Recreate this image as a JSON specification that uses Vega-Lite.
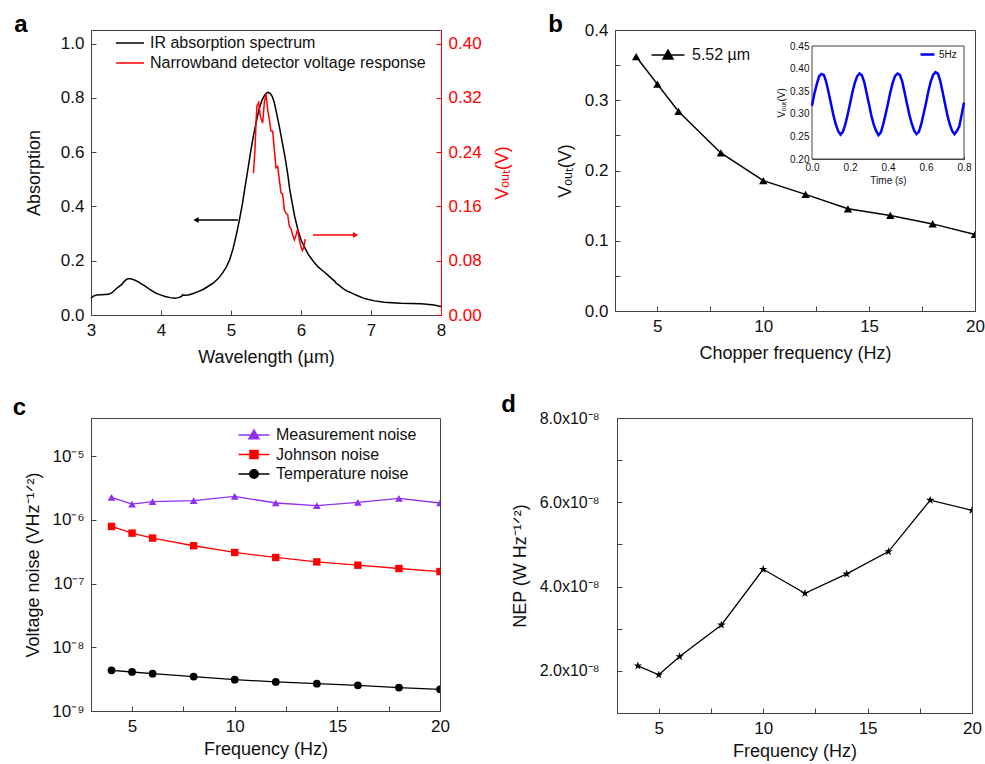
{
  "$schema": "https://vega.github.io/schema/vega-lite/v6.json",
  "background": "white",
  "padding": {"left": 12, "top": 12, "right": 5, "bottom": 0},
  "config": {
    "font": "Liberation Sans",
    "view": {"stroke": "#444", "strokeWidth": 1},
    "axis": {"grid": false, "labelFontSize": 17, "titleFontSize": 18, "titleFontWeight": "normal", "labelColor": "#111", "titleColor": "#111", "domainColor": "#444", "tickColor": "#444", "tickSize": -5, "labelPadding": 12, "titlePadding": 10, "labelFlush": false, "labelOverlap": false, "domainWidth": 1, "tickWidth": 1},
    "title": {"fontSize": 24, "fontWeight": "bold", "anchor": "start", "frame": "bounds", "baseline": "alphabetic", "color": "#000"},
    "legend": {"labelFontSize": 16, "labelColor": "#111", "labelLimit": 0, "padding": 0, "rowPadding": 2}
  },
  "spacing": 25,
  "resolve": {"scale": {"color": "independent", "shape": "independent"}},
  "vconcat": [
    {
      "spacing": 35,
      "resolve": {"scale": {"color": "independent", "shape": "independent"}},
      "hconcat": [
        {
          "width": 350, "height": 285,
          "title": {"text": "a", "dx": -11, "offset": -7},
          "resolve": {"scale": {"y": "independent"}},
          "layer": [
            {
              "layer": [
                {
                  "data": {"values": [
                    {"w":3.0,"a":0.062},{"w":3.04,"a":0.07},{"w":3.08,"a":0.074},{"w":3.15,"a":0.075},{"w":3.25,"a":0.076},{"w":3.3,"a":0.082},{"w":3.34,"a":0.092},{"w":3.39,"a":0.103},{"w":3.44,"a":0.113},{"w":3.48,"a":0.125},{"w":3.51,"a":0.132},{"w":3.55,"a":0.134},{"w":3.58,"a":0.133},{"w":3.62,"a":0.129},{"w":3.67,"a":0.123},{"w":3.72,"a":0.115},{"w":3.77,"a":0.107},{"w":3.84,"a":0.094},{"w":3.91,"a":0.083},{"w":3.98,"a":0.075},{"w":4.06,"a":0.068},{"w":4.13,"a":0.064},{"w":4.2,"a":0.062},{"w":4.25,"a":0.064},{"w":4.29,"a":0.068},{"w":4.31,"a":0.074},{"w":4.34,"a":0.073},{"w":4.39,"a":0.074},{"w":4.46,"a":0.079},{"w":4.53,"a":0.086},{"w":4.6,"a":0.094},{"w":4.67,"a":0.105},{"w":4.75,"a":0.118},{"w":4.82,"a":0.135},{"w":4.88,"a":0.155},{"w":4.93,"a":0.175},{"w":4.98,"a":0.203},{"w":5.03,"a":0.245},{"w":5.08,"a":0.3},{"w":5.12,"a":0.35},{"w":5.16,"a":0.405},{"w":5.2,"a":0.47},{"w":5.24,"a":0.535},{"w":5.28,"a":0.6},{"w":5.32,"a":0.66},{"w":5.36,"a":0.71},{"w":5.4,"a":0.757},{"w":5.44,"a":0.79},{"w":5.48,"a":0.81},{"w":5.51,"a":0.818},{"w":5.53,"a":0.82},{"w":5.56,"a":0.817},{"w":5.59,"a":0.805},{"w":5.62,"a":0.781},{"w":5.65,"a":0.745},{"w":5.69,"a":0.695},{"w":5.73,"a":0.64},{"w":5.77,"a":0.584},{"w":5.81,"a":0.52},{"w":5.84,"a":0.461},{"w":5.88,"a":0.405},{"w":5.91,"a":0.363},{"w":5.95,"a":0.32},{"w":6.0,"a":0.277},{"w":6.05,"a":0.25},{"w":6.1,"a":0.225},{"w":6.17,"a":0.2},{"w":6.24,"a":0.178},{"w":6.31,"a":0.163},{"w":6.38,"a":0.148},{"w":6.43,"a":0.136},{"w":6.48,"a":0.125},{"w":6.5,"a":0.118},{"w":6.55,"a":0.108},{"w":6.58,"a":0.102},{"w":6.62,"a":0.094},{"w":6.66,"a":0.088},{"w":6.7,"a":0.084},{"w":6.74,"a":0.079},{"w":6.78,"a":0.074},{"w":6.81,"a":0.071},{"w":6.88,"a":0.063},{"w":6.95,"a":0.058},{"w":7.05,"a":0.052},{"w":7.19,"a":0.047},{"w":7.3,"a":0.045},{"w":7.43,"a":0.043},{"w":7.57,"a":0.042},{"w":7.71,"a":0.041},{"w":7.8,"a":0.04},{"w":7.9,"a":0.037},{"w":8.0,"a":0.031}
                  ]},
                  "mark": {"type": "line", "strokeWidth": 1.5},
                  "encoding": {
                    "x": {"field": "w", "type": "quantitative", "title": "Wavelength (µm)", "scale": {"domain": [3, 8], "nice": false, "zero": false},
                      "axis": {"values": [3, 3.5, 4, 4.5, 5, 5.5, 6, 6.5, 7, 7.5, 8], "labelExpr": "datum.value % 1 == 0 ? format(datum.value, 'd') : ''"}},
                    "y": {"field": "a", "type": "quantitative", "title": "Absorption", "scale": {"domain": [0, 1.05], "nice": false, "zero": false},
                      "axis": {"values": [0, 0.1, 0.2, 0.3, 0.4, 0.5, 0.6, 0.7, 0.8, 0.9, 1.0], "titlePadding": 17, "labelExpr": "round(datum.value * 10) % 2 == 0 ? format(datum.value, '.1f') : ''"}},
                    "color": {"datum": "IR absorption spectrum", "type": "nominal", "scale": {"domain": ["IR absorption spectrum", "Narrowband detector voltage response"], "range": ["#000000", "#ff0000"]},
                      "legend": {"orient": "none", "legendX": 31, "legendY": 5, "title": null, "symbolType": "M-2.8,0H2.8", "symbolSize": 100, "symbolStrokeWidth": 1.5, "labelOffset": 12, "rowPadding": 4}}
                  }
                },
                {
                  "data": {"values": [{"x1": 4.5, "x2": 5.1, "y": 0.35}]},
                  "mark": {"type": "rule", "color": "#000", "strokeWidth": 1.5},
                  "encoding": {"x": {"field": "x1", "type": "quantitative"}, "x2": {"field": "x2"}, "y": {"field": "y", "type": "quantitative"}}
                },
                {
                  "data": {"values": [{"x1": 4.5, "y": 0.35}]},
                  "mark": {"type": "point", "shape": "triangle-left", "filled": true, "color": "#000", "size": 35, "opacity": 1},
                  "encoding": {"x": {"field": "x1", "type": "quantitative"}, "y": {"field": "y", "type": "quantitative"}}
                }
              ]
            },
            {
              "layer": [
                {
                  "data": {"values": [
                    {"w":5.32,"v":0.209},{"w":5.343,"v":0.244},{"w":5.36,"v":0.29},{"w":5.371,"v":0.308},{"w":5.395,"v":0.313},{"w":5.419,"v":0.293},{"w":5.452,"v":0.283},{"w":5.476,"v":0.313},{"w":5.5,"v":0.326},{"w":5.524,"v":0.303},{"w":5.548,"v":0.288},{"w":5.571,"v":0.271},{"w":5.595,"v":0.271},{"w":5.619,"v":0.244},{"w":5.643,"v":0.217},{"w":5.667,"v":0.219},{"w":5.69,"v":0.2},{"w":5.714,"v":0.18},{"w":5.738,"v":0.178},{"w":5.762,"v":0.155},{"w":5.786,"v":0.15},{"w":5.81,"v":0.148},{"w":5.833,"v":0.131},{"w":5.857,"v":0.127},{"w":5.881,"v":0.118},{"w":5.905,"v":0.111},{"w":5.929,"v":0.118},{"w":5.952,"v":0.126},{"w":5.976,"v":0.111},{"w":6.0,"v":0.1},{"w":6.02,"v":0.095},{"w":6.04,"v":0.1},{"w":6.06,"v":0.112}
                  ]},
                  "mark": {"type": "line", "strokeWidth": 1.5},
                  "encoding": {
                    "x": {"field": "w", "type": "quantitative"},
                    "y": {"field": "v", "type": "quantitative", "title": "Vₒᵤₜ(V)", "scale": {"domain": [0, 0.42], "nice": false, "zero": false},
                      "axis": {"orient": "right", "values": [0, 0.04, 0.08, 0.12, 0.16, 0.2, 0.24, 0.28, 0.32, 0.36, 0.4], "labelExpr": "round(datum.value * 100) % 8 == 0 ? format(datum.value, '.2f') : ''", "labelColor": "#ff0000", "tickColor": "#ff0000", "domainColor": "#ff0000", "titleColor": "#ff0000", "titleAngle": 270, "titleBaseline": "top", "titlePadding": 12}},
                    "color": {"datum": "Narrowband detector voltage response", "type": "nominal"}
                  }
                },
                {
                  "data": {"values": [{"x1": 6.17, "x2": 6.78, "y": 0.118}]},
                  "mark": {"type": "rule", "color": "#ff0000", "strokeWidth": 1.5},
                  "encoding": {"x": {"field": "x1", "type": "quantitative"}, "x2": {"field": "x2"}, "y": {"field": "y", "type": "quantitative"}}
                },
                {
                  "data": {"values": [{"x2": 6.78, "y": 0.118}]},
                  "mark": {"type": "point", "shape": "triangle-right", "filled": true, "color": "#ff0000", "size": 35, "opacity": 1},
                  "encoding": {"x": {"field": "x2", "type": "quantitative"}, "y": {"field": "y", "type": "quantitative"}}
                }
              ]
            }
          ]
        },
        {
          "width": 360, "height": 281,
          "title": {"text": "b", "dx": -8, "offset": -16},
          "resolve": {"scale": {"x": "independent", "y": "independent", "color": "independent"}},
          "layer": [
            {
              "data": {"values": [
                {"f":4,"v":0.362},{"f":5,"v":0.323},{"f":6,"v":0.284},{"f":8,"v":0.225},{"f":10,"v":0.1855},{"f":12,"v":0.166},{"f":14,"v":0.1455},{"f":16,"v":0.136},{"f":18,"v":0.124},{"f":20,"v":0.109}
              ]},
              "encoding": {
                "x": {"field": "f", "type": "quantitative", "title": "Chopper frequency (Hz)", "scale": {"domain": [3, 20], "nice": false, "zero": false},
                  "axis": {"values": [5, 7.5, 10, 12.5, 15, 17.5, 20], "labelExpr": "datum.value % 5 == 0 ? format(datum.value, 'd') : ''"}},
                "y": {"field": "v", "type": "quantitative", "title": "Vₒᵤₜ(V)", "scale": {"domain": [0, 0.4], "nice": false, "zero": false},
                  "axis": {"values": [0, 0.05, 0.1, 0.15, 0.2, 0.25, 0.3, 0.35, 0.4], "labelExpr": "round(datum.value * 100) % 10 == 0 ? format(datum.value, '.1f') : ''"}},
                "color": {"datum": "5.52 µm", "type": "nominal", "scale": {"range": ["#000000"]},
                  "legend": {"orient": "none", "legendX": 45, "legendY": 17, "title": null, "symbolType": "M-3.3,0H3.3M0,-1L1,0.8H-1Z", "symbolSize": 100, "symbolStrokeWidth": 1.5, "symbolFillColor": "#000", "symbolStrokeColor": "#000", "labelOffset": 16, "labelFontSize": 16}}
              },
              "layer": [
                {"mark": {"type": "line", "strokeWidth": 1.5}},
                {"mark": {"type": "point", "shape": "triangle-up", "filled": true, "size": 70, "opacity": 1, "clip": true}}
              ]
            },
            {
              "layer": [
                {
                  "data": {"values": [{"t1": 0, "t2": 0.8, "v1": 0.2, "v2": 0.45}]},
                  "mark": {"type": "rect", "fill": "white", "stroke": "#444", "strokeWidth": 1},
                  "encoding": {
                    "x": {"field": "t1", "type": "quantitative", "title": "Time (s)", "scale": {"domain": [0, 0.8], "range": [197, 349], "nice": false, "zero": false},
                      "axis": {"orient": "bottom", "offset": -152, "values": [0, 0.1, 0.2, 0.3, 0.4, 0.5, 0.6, 0.7, 0.8], "labelExpr": "round(datum.value * 10) % 2 == 0 ? format(datum.value, '.1f') : ''", "labelFontSize": 10, "titleFontSize": 10, "labelPadding": 6, "titlePadding": 3, "tickSize": -3}},
                    "x2": {"field": "t2"},
                    "y": {"field": "v1", "type": "quantitative", "title": "Vₒᵤₜ(V)", "scale": {"domain": [0.2, 0.45], "range": [129, 16], "nice": false, "zero": false},
                      "axis": {"orient": "left", "offset": -197, "values": [0.2, 0.225, 0.25, 0.275, 0.3, 0.325, 0.35, 0.375, 0.4, 0.425, 0.45], "labelExpr": "round(datum.value * 1000) % 50 == 0 ? format(datum.value, '.2f') : ''", "labelFontSize": 10, "titleFontSize": 10, "labelPadding": 6, "titlePadding": 3, "tickSize": -3}},
                    "y2": {"field": "v2"}
                  }
                },
                {
                  "data": {"values": [
                    {"t":0,"v":0.318},{"t":0.0125,"v":0.345},{"t":0.025,"v":0.365},{"t":0.0375,"v":0.383},{"t":0.05,"v":0.388},{"t":0.0625,"v":0.386},{"t":0.075,"v":0.37},{"t":0.0875,"v":0.347},{"t":0.1,"v":0.322},{"t":0.1125,"v":0.297},{"t":0.125,"v":0.277},{"t":0.1375,"v":0.262},{"t":0.15,"v":0.254},{"t":0.1625,"v":0.26},{"t":0.175,"v":0.276},{"t":0.1875,"v":0.298},{"t":0.2,"v":0.322},{"t":0.2125,"v":0.347},{"t":0.225,"v":0.368},{"t":0.2375,"v":0.383},{"t":0.25,"v":0.389},{"t":0.2625,"v":0.385},{"t":0.275,"v":0.37},{"t":0.2875,"v":0.346},{"t":0.3,"v":0.321},{"t":0.3125,"v":0.296},{"t":0.325,"v":0.276},{"t":0.3375,"v":0.262},{"t":0.35,"v":0.253},{"t":0.3625,"v":0.259},{"t":0.375,"v":0.277},{"t":0.3875,"v":0.299},{"t":0.4,"v":0.323},{"t":0.4125,"v":0.348},{"t":0.425,"v":0.369},{"t":0.4375,"v":0.384},{"t":0.45,"v":0.389},{"t":0.4625,"v":0.386},{"t":0.475,"v":0.371},{"t":0.4875,"v":0.347},{"t":0.5,"v":0.322},{"t":0.5125,"v":0.298},{"t":0.525,"v":0.278},{"t":0.5375,"v":0.263},{"t":0.55,"v":0.255},{"t":0.5625,"v":0.26},{"t":0.575,"v":0.277},{"t":0.5875,"v":0.3},{"t":0.6,"v":0.324},{"t":0.6125,"v":0.35},{"t":0.625,"v":0.371},{"t":0.6375,"v":0.386},{"t":0.65,"v":0.392},{"t":0.6625,"v":0.389},{"t":0.675,"v":0.373},{"t":0.6875,"v":0.348},{"t":0.7,"v":0.322},{"t":0.7125,"v":0.297},{"t":0.725,"v":0.277},{"t":0.7375,"v":0.262},{"t":0.75,"v":0.255},{"t":0.7625,"v":0.262},{"t":0.775,"v":0.272},{"t":0.7875,"v":0.298},{"t":0.8,"v":0.325}
                  ]},
                  "mark": {"type": "line", "strokeWidth": 2.5},
                  "encoding": {
                    "x": {"field": "t", "type": "quantitative"},
                    "y": {"field": "v", "type": "quantitative"},
                    "color": {"datum": "5Hz", "type": "nominal", "scale": {"range": ["#0000ff"]},
                      "legend": {"orient": "none", "legendX": 304, "legendY": 16, "title": null, "symbolType": "stroke", "symbolSize": 196, "symbolStrokeWidth": 2.5, "labelOffset": 3, "labelFontSize": 10}}
                  }
                }
              ]
            }
          ]
        }
      ]
    },
    {
      "spacing": 50,
      "resolve": {"scale": {"color": "independent", "shape": "independent"}},
      "hconcat": [
        {
          "width": 349, "height": 293,
          "title": {"text": "c", "dx": -12, "offset": -2},
          "data": {"values": [
            {"f":4,"n":2.27e-6,"s":"Measurement noise"},{"f":5,"n":1.78e-6,"s":"Measurement noise"},{"f":6,"n":1.94e-6,"s":"Measurement noise"},{"f":8,"n":2.01e-6,"s":"Measurement noise"},{"f":10,"n":2.35e-6,"s":"Measurement noise"},{"f":12,"n":1.85e-6,"s":"Measurement noise"},{"f":14,"n":1.68e-6,"s":"Measurement noise"},{"f":16,"n":1.89e-6,"s":"Measurement noise"},{"f":18,"n":2.19e-6,"s":"Measurement noise"},{"f":20,"n":1.85e-6,"s":"Measurement noise"},
            {"f":4,"n":7.92e-7,"s":"Johnson noise"},{"f":5,"n":6.22e-7,"s":"Johnson noise"},{"f":6,"n":5.2e-7,"s":"Johnson noise"},{"f":8,"n":3.94e-7,"s":"Johnson noise"},{"f":10,"n":3.09e-7,"s":"Johnson noise"},{"f":12,"n":2.58e-7,"s":"Johnson noise"},{"f":14,"n":2.2e-7,"s":"Johnson noise"},{"f":16,"n":1.95e-7,"s":"Johnson noise"},{"f":18,"n":1.73e-7,"s":"Johnson noise"},{"f":20,"n":1.55e-7,"s":"Johnson noise"},
            {"f":4,"n":4.36e-9,"s":"Temperature noise"},{"f":5,"n":4.1e-9,"s":"Temperature noise"},{"f":6,"n":3.86e-9,"s":"Temperature noise"},{"f":8,"n":3.47e-9,"s":"Temperature noise"},{"f":10,"n":3.11e-9,"s":"Temperature noise"},{"f":12,"n":2.86e-9,"s":"Temperature noise"},{"f":14,"n":2.69e-9,"s":"Temperature noise"},{"f":16,"n":2.53e-9,"s":"Temperature noise"},{"f":18,"n":2.33e-9,"s":"Temperature noise"},{"f":20,"n":2.19e-9,"s":"Temperature noise"}
          ]},
          "encoding": {
            "x": {"field": "f", "type": "quantitative", "title": "Frequency (Hz)", "scale": {"domain": [3, 20], "nice": false, "zero": false},
              "axis": {"values": [5, 7.5, 10, 12.5, 15, 17.5, 20], "titlePadding": 6, "labelExpr": "datum.value % 5 == 0 ? format(datum.value, 'd') : ''"}},
            "y": {"field": "n", "type": "quantitative", "title": "Voltage noise (VHz⁻¹ᐟ²)", "scale": {"type": "log", "domain": [1e-9, 4e-5], "nice": false},
              "axis": {"values": [1e-9, 1e-8, 1e-7, 1e-6, 1e-5], "titlePadding": 9, "labelExpr": "datum.value < 5e-9 ? '10⁻⁹' : datum.value < 5e-8 ? '10⁻⁸' : datum.value < 5e-7 ? '10⁻⁷' : datum.value < 5e-6 ? '10⁻⁶' : '10⁻⁵'"}}
          },
          "resolve": {"scale": {"color": "independent"}},
          "layer": [
            {
              "transform": [{"filter": "datum.s == 'Measurement noise'"}],
              "encoding": {"color": {"datum": "Measurement noise", "type": "nominal", "scale": {"range": ["#9030f0"]},
                "legend": {"orient": "none", "legendX": 155, "legendY": 9, "title": null, "symbolType": "M-3.1,0H3.1M0,-1L1,0.75H-1Z", "symbolSize": 100, "symbolStrokeWidth": 1.5, "symbolFillColor": "#9030f0", "symbolStrokeColor": "#9030f0", "labelOffset": 14, "labelFontSize": 16}}},
              "layer": [
                {"mark": {"type": "line", "strokeWidth": 1.3}},
                {"mark": {"type": "point", "shape": "triangle-up", "filled": true, "opacity": 1, "size": 60, "clip": true}}
              ]
            },
            {
              "transform": [{"filter": "datum.s == 'Johnson noise'"}],
              "encoding": {"color": {"datum": "Johnson noise", "type": "nominal", "scale": {"range": ["#ff0000"]},
                "legend": {"orient": "none", "legendX": 155, "legendY": 28.5, "title": null, "symbolType": "M-3.1,0H3.1M-0.8,-0.8H0.8V0.8H-0.8Z", "symbolSize": 100, "symbolStrokeWidth": 1.5, "symbolFillColor": "#ff0000", "symbolStrokeColor": "#ff0000", "labelOffset": 14, "labelFontSize": 16}}},
              "layer": [
                {"mark": {"type": "line", "strokeWidth": 1.3}},
                {"mark": {"type": "point", "shape": "square", "filled": true, "opacity": 1, "size": 55, "clip": true}}
              ]
            },
            {
              "transform": [{"filter": "datum.s == 'Temperature noise'"}],
              "encoding": {"color": {"datum": "Temperature noise", "type": "nominal", "scale": {"range": ["#000000"]},
                "legend": {"orient": "none", "legendX": 155, "legendY": 48, "title": null, "symbolType": "M-3.1,0H3.1M0.85,0A0.85,0.85,0,1,1,-0.85,0A0.85,0.85,0,1,1,0.85,0Z", "symbolSize": 100, "symbolStrokeWidth": 1.5, "symbolFillColor": "#000000", "symbolStrokeColor": "#000000", "labelOffset": 14, "labelFontSize": 16}}},
              "layer": [
                {"mark": {"type": "line", "strokeWidth": 1.3}},
                {"mark": {"type": "point", "shape": "circle", "filled": true, "opacity": 1, "size": 60, "clip": true}}
              ]
            }
          ]
        },
        {
          "width": 355, "height": 295,
          "title": {"text": "d", "dx": -10, "offset": -7},
          "data": {"values": [
            {"f":4,"p":2.12e-8},{"f":5,"p":1.905e-8},{"f":6,"p":2.34e-8},{"f":8,"p":3.09e-8},{"f":10,"p":4.41e-8},{"f":12,"p":3.84e-8},{"f":14,"p":4.3e-8},{"f":16,"p":4.83e-8},{"f":18,"p":6.05e-8},{"f":20,"p":5.81e-8}
          ]},
          "encoding": {
            "x": {"field": "f", "type": "quantitative", "title": "Frequency (Hz)", "scale": {"domain": [3, 20], "nice": false, "zero": false},
              "axis": {"values": [5, 7.5, 10, 12.5, 15, 17.5, 20], "titlePadding": 6, "labelExpr": "datum.value % 5 == 0 ? format(datum.value, 'd') : ''"}},
            "y": {"field": "p", "type": "quantitative", "title": "NEP (W Hz⁻¹ᐟ²)", "scale": {"domain": [1e-8, 8e-8], "nice": false, "zero": false},
              "axis": {"values": [1e-8, 2e-8, 3e-8, 4e-8, 5e-8, 6e-8, 7e-8, 8e-8], "labelExpr": "round(datum.value * 1e8) % 2 == 0 ? format(datum.value * 1e8, '.1f') + 'x10⁻⁸' : ''", "labelFontSize": 16, "labelPadding": 23}}
          },
          "layer": [
            {"mark": {"type": "line", "color": "#000", "strokeWidth": 1.3}},
            {"mark": {"type": "point", "shape": "M0,-1L0.2245,-0.309L0.951,-0.309L0.363,0.118L0.588,0.809L0,0.382L-0.588,0.809L-0.363,0.118L-0.951,-0.309L-0.2245,-0.309Z", "filled": true, "color": "#000", "size": 80, "opacity": 1, "clip": true}}
          ]
        }
      ]
    }
  ]
}
